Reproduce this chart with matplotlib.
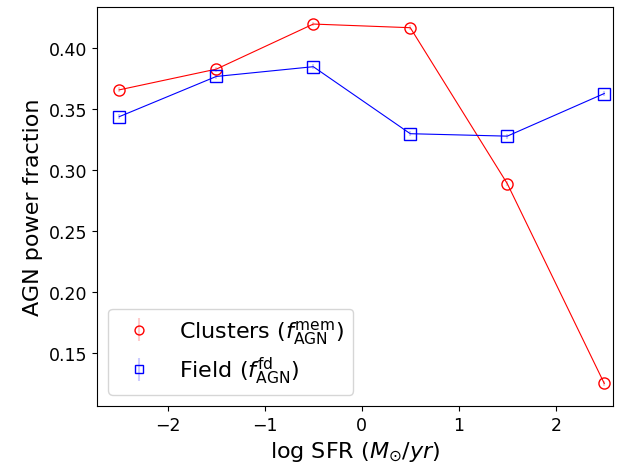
import matplotlib
matplotlib.use('Agg')
import matplotlib.pyplot as plt

log_sfr = [-2.5, -1.5, -0.5, 0.5, 1.5, 2.5]
clusters_frac = [0.366, 0.383, 0.420, 0.417, 0.289, 0.125]
clusters_err = [0.002, 0.002, 0.002, 0.002, 0.002, 0.002]
field_frac = [0.344, 0.377, 0.385, 0.330, 0.328, 0.363]
field_err = [0.002, 0.002, 0.002, 0.002, 0.002, 0.002]

fig = plt.figure(figsize=(6.39, 4.64), dpi=100)
ax = fig.add_axes([97 / 639, 57 / 464, 516 / 639, 399 / 464])

# connecting lines (no legend entry)
ax.plot(log_sfr, clusters_frac, color='red', lw=0.8)
ax.plot(log_sfr, field_frac, color='blue', lw=0.8)

ax.errorbar(log_sfr, clusters_frac, yerr=clusters_err, fmt='o', color='red',
            ecolor=(1, 0, 0, 0.2), mfc='none', ms=8, mew=1.0,
            label=r'Clusters ($f_{\rm AGN}^{\rm mem}$)')
ax.errorbar(log_sfr, field_frac, yerr=field_err, fmt='s', color='blue',
            ecolor=(0, 0, 1, 0.2), mfc='none', ms=8, mew=1.0,
            label=r'Field ($f_{\rm AGN}^{\rm fd}$)')

ax.set_xlim(-2.73, 2.59)
ax.set_ylim(0.1065, 0.434)
ax.set_xlabel(r'log SFR ($M_{\odot}/yr$)', fontsize=16)
ax.set_ylabel('AGN power fraction', fontsize=16)
ax.tick_params(labelsize=12.5)
ax.set_xticks([-2, -1, 0, 1, 2])
ax.set_yticks([0.15, 0.20, 0.25, 0.30, 0.35, 0.40])
ax.legend(loc='lower left', fontsize=16, markerscale=0.8, labelspacing=0.4)

fig.savefig('out.png', dpi=100)
